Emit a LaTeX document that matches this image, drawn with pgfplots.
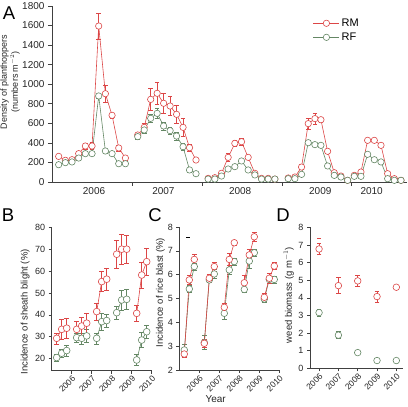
\documentclass[border=0pt]{standalone}
\usepackage{fontspec}
\setmainfont{Liberation Sans}
\usepackage{pgfplots}
\usepackage{pgfplotstable}
\pgfplotsset{compat=1.18}
\definecolor{rmc}{RGB}{220,70,70}
\definecolor{rfc}{RGB}{100,135,100}

\pgfplotstableread{
x rm erm rf erf
1 262 20 177 15
2 222 20 198 15
3 228 20 205 15
4 290 25 245 20
5 368 30 290 20
6 368 35 290 20
7 1595 135 880 20
8 903 90 317 20
9 682 25 290 15
10 348 30 187 15
11 245 20 187 15
nan nan 0 nan 0
12.85 481 20 464 25
13.82 559 40 532 30
14.79 845 110 651 45
15.76 907 115 702 55
16.73 805 100 573 40
17.70 777 95 525 40
18.67 692 90 470 40
19.64 559 90 361 40
20.61 351 40 123 20
21.58 225 15 85 15
nan nan 0 nan 0
23.4 37 10 30 10
24.4 44 10 30 10
25.4 89 15 61 10
26.4 252 40 133 15
27.4 395 30 157 15
28.4 412 35 215 15
29.4 252 20 123 15
30.4 89 15 72 10
31.4 37 10 30 10
32.4 37 10 30 10
33.4 30 10 30 10
nan nan 0 nan 0
35.4 41 10 34 10
36.4 51 10 34 10
37.4 153 25 78 10
38.4 597 60 402 20
39.4 648 60 382 15
40.3 637 30 375 15
41.3 314 20 164 15
42.3 95 15 68 10
43.3 61 10 51 10
44.3 17 5 17 5
nan nan 0 nan 0
45.3 68 5 58 5
46.3 102 5 58 5
47.3 426 10 283 10
48.3 426 10 228 10
49.3 375 10 205 10
50.3 85 5 34 5
51.3 34 5 17 5
52.3 17 5 17 5
}\dataA

\pgfplotstableread{
x rm erm rf erf
-0.25 29.3 2.5 20.5 1.5
0.00 33.4 4.5 22.5 2
0.25 33.9 4.5 23.7 2.5
nan nan 0 nan 0
0.75 33.4 3.5 29.6 2
1.00 34.9 4 29.3 2.5
1.25 36.2 4.5 30.4 3
nan nan 0 nan 0
1.75 41.5 4 29.3 2.5
2.00 55.2 4.5 36.9 4
2.25 56.3 5 37.4 3
nan nan 0 nan 0
2.75 67.7 6.5 41.0 3
3.00 70.0 7 46.8 4.5
3.25 70.0 6.5 47.1 4.5
nan nan 0 nan 0
3.75 40.7 3.5 19.4 2.5
4.00 58.2 6 28.5 3.5
4.25 64.3 6 32.3 3
}\dataB

\pgfplotstableread{
x rm erm rf erf
-0.25 2.67 0.15 2.84 0.25
0.00 5.78 0.2 5.40 0.15
0.25 6.64 0.2 6.34 0.15
nan nan 0 nan 0
0.75 3.12 0.15 3.15 0.3
1.00 5.85 0.15 5.78 0.1
1.25 6.34 0.2 6.03 0.2
nan nan 0 nan 0
1.75 4.63 0.15 4.38 0.25
2.00 6.64 0.25 6.20 0.2
2.25 7.34 0.1 6.55 0.15
nan nan 0 nan 0
2.75 5.66 0.3 5.38 0.1
3.00 6.83 0.25 6.57 0.3
3.25 7.59 0.2 6.92 0.15
nan nan 0 nan 0
3.75 5.05 0.15 4.98 0.15
4.00 5.85 0.2 5.80 0.15
4.25 6.36 0.15 5.80 0.15
}\dataC

\pgfplotstableread{
x rm erm rf erf
0 6.77 0.30 3.16 0.20
1 4.69 0.45 1.88 0.20
2 4.96 0.30 0.89 0.10
3 4.07 0.30 0.44 0.08
4 4.60 0.10 0.44 0.05
}\dataD

\pgfplotsset{
  common/.style={
    scale only axis,
    axis x line*=bottom, axis y line*=left,
    axis line style={-, line width=0.6pt, black!75},
    tick style={line width=0.6pt, black!75},
    tick align=outside, major tick length=3pt,
    /pgf/number format/assume math mode=true,
    /pgf/number format/1000 sep={},
    scaled y ticks=false,
    every tick label/.append style={font=\fontsize{9}{10}\selectfont, black!85},
    label style={font=\fontsize{9.5}{11}\selectfont, black!85},
    unbounded coords=jump,
    clip=false,
  },
  rmstyle/.style={rmc, line width=0.6pt, mark=*, mark size=#1,
    mark options={fill=white, draw=rmc, line width=0.6pt},
    /pgfplots/error bars/y dir=both, /pgfplots/error bars/y explicit,
    /pgfplots/error bars/error bar style={line width=0.5pt, rmc},
    /pgfplots/error bars/error mark options={rotate=90, mark size=2.3pt, line width=0.5pt, rmc}},
  rfstyle/.style={rfc, line width=0.6pt, mark=*, mark size=#1,
    mark options={fill=white, draw=rfc, line width=0.6pt},
    /pgfplots/error bars/y dir=both, /pgfplots/error bars/y explicit,
    /pgfplots/error bars/error bar style={line width=0.5pt, rfc},
    /pgfplots/error bars/error mark options={rotate=90, mark size=2.3pt, line width=0.5pt, rfc}},
  yearticks/.style={
    xticklabel style={rotate=45, anchor=north east, font=\fontsize{8.5}{9}\selectfont, inner sep=1pt},
  },
}

\begin{document}
\begin{tikzpicture}[x=1pt,y=1pt]
\useasboundingbox (0,0) rectangle (408,407);

% ---------------- Panel A
\begin{axis}[common, at={(52pt,225pt)}, anchor=south west,
  width=355pt, height=176pt,
  xmin=0, xmax=53.2, ymin=0, ymax=1800,
  ytick={0,200,...,1800},
  every y tick label/.append style={font=\fontsize{10}{11}\selectfont},
  xtick={12,22.5,34.5,44.9}, xticklabels={},
  major tick length=4pt,
  extra x ticks={6.3,16.7,28.2,40.2,47.9},
  extra x tick labels={2006,2007,2008,2009,2010},
  extra x tick style={major tick length=0pt, tick label style={font=\fontsize{10}{11}\selectfont, yshift=-2pt}},
  ylabel={Density of planthoppers\\(numbers m$^{-2}$)},
  ylabel style={at={(axis description cs:-0.118,0.568)}, anchor=center, align=center, font=\fontsize{9}{11}\selectfont},
  legend style={at={(0.735,0.94)}, anchor=north west, draw=none, fill=none,
    font=\fontsize{11}{12}\selectfont, row sep=1pt, inner sep=0pt,
    /tikz/every even column/.append style={column sep=2pt}},
  legend cell align=left,
  legend image code/.code={\draw[mark repeat=2, mark phase=2, #1] plot coordinates {(0pt,0pt) (13pt,0pt) (26pt,0pt)};},
]
\addplot[rmstyle=3.2pt] table[x=x, y=rm, y error=erm]{\dataA};
\addlegendentry{RM}
\addplot[rfstyle=3.2pt] table[x=x, y=rf, y error=erf]{\dataA};
\addlegendentry{RF}
\end{axis}

% ---------------- Panel B
\begin{axis}[common, yearticks, at={(51.7pt,36.3pt)}, anchor=south west,
  width=100pt, height=143.4pt,
  xmin=-0.5, xmax=4.5, ymin=14.5, ymax=80,
  ytick={20,30,...,80},
  xtick={0.5,1.5,2.5,3.5,4.5}, xticklabels={2006,2007,2008,2009,2010},
  ylabel={Incidence of sheath blight (\%)},
  ylabel style={at={(axis description cs:-0.265,0.41)}, anchor=center},
]
\addplot[rfstyle=3.4pt] table[x=x, y=rf, y error=erf]{\dataB};
\addplot[rmstyle=3.4pt] table[x=x, y=rm, y error=erm]{\dataB};
\end{axis}

% ---------------- Panel C
\begin{axis}[common, yearticks, at={(179.3pt,37pt)}, anchor=south west,
  width=100pt, height=143pt,
  xmin=-0.5, xmax=4.5, ymin=2, ymax=8,
  ytick={2,3,...,8},
  xtick={0.5,1.5,2.5,3.5,4.5}, xticklabels={2006,2007,2008,2009,2010},
  ylabel={Incidence of rice blast (\%)},
  ylabel style={at={(axis description cs:-0.19,0.54)}, anchor=center},
  xlabel={Year},
  xlabel style={at={(axis description cs:0.364,-0.205)}, anchor=center, font=\fontsize{10}{11}\selectfont},
]
\addplot[rfstyle=3.3pt] table[x=x, y=rf, y error=erf]{\dataC};
\addplot[rmstyle=3.3pt] table[x=x, y=rm, y error=erm]{\dataC};
\addplot[only marks, mark=-, mark size=2pt, black, line width=0.6pt] coordinates {(-0.08,7.55)};
\end{axis}

% ---------------- Panel D
\begin{axis}[common, yearticks, at={(310pt,38.7pt)}, anchor=south west,
  width=92.7pt, height=141pt,
  xmin=-0.47, xmax=4.33, ymin=0, ymax=8,
  ytick={0,1,...,8},
  xtick={0,1,2,3,4}, xticklabels={2006,2007,2008,2009,2010},
  ylabel={weed biomass (g m$^{-1}$)},
  ylabel style={at={(axis description cs:-0.23,0.52)}, anchor=center},
]
\addplot[only marks, rfstyle=3.3pt] table[x=x, y=rf, y error=erf]{\dataD};
\addplot[only marks, rmstyle=3.3pt] table[x=x, y=rm, y error=erm]{\dataD};
\addplot[only marks, mark=-, mark size=1.8pt, rmc, line width=0.5pt] coordinates {(0,7.38)};
\end{axis}

% panel letters
\node[font=\fontsize{18.5}{19}\selectfont] at (9,394) {A};
\node[font=\fontsize{18.5}{19}\selectfont] at (8,192) {B};
\node[font=\fontsize{18.5}{19}\selectfont] at (155,192) {C};
\node[font=\fontsize{18.5}{19}\selectfont] at (283,192) {D};
\end{tikzpicture}
\end{document}
